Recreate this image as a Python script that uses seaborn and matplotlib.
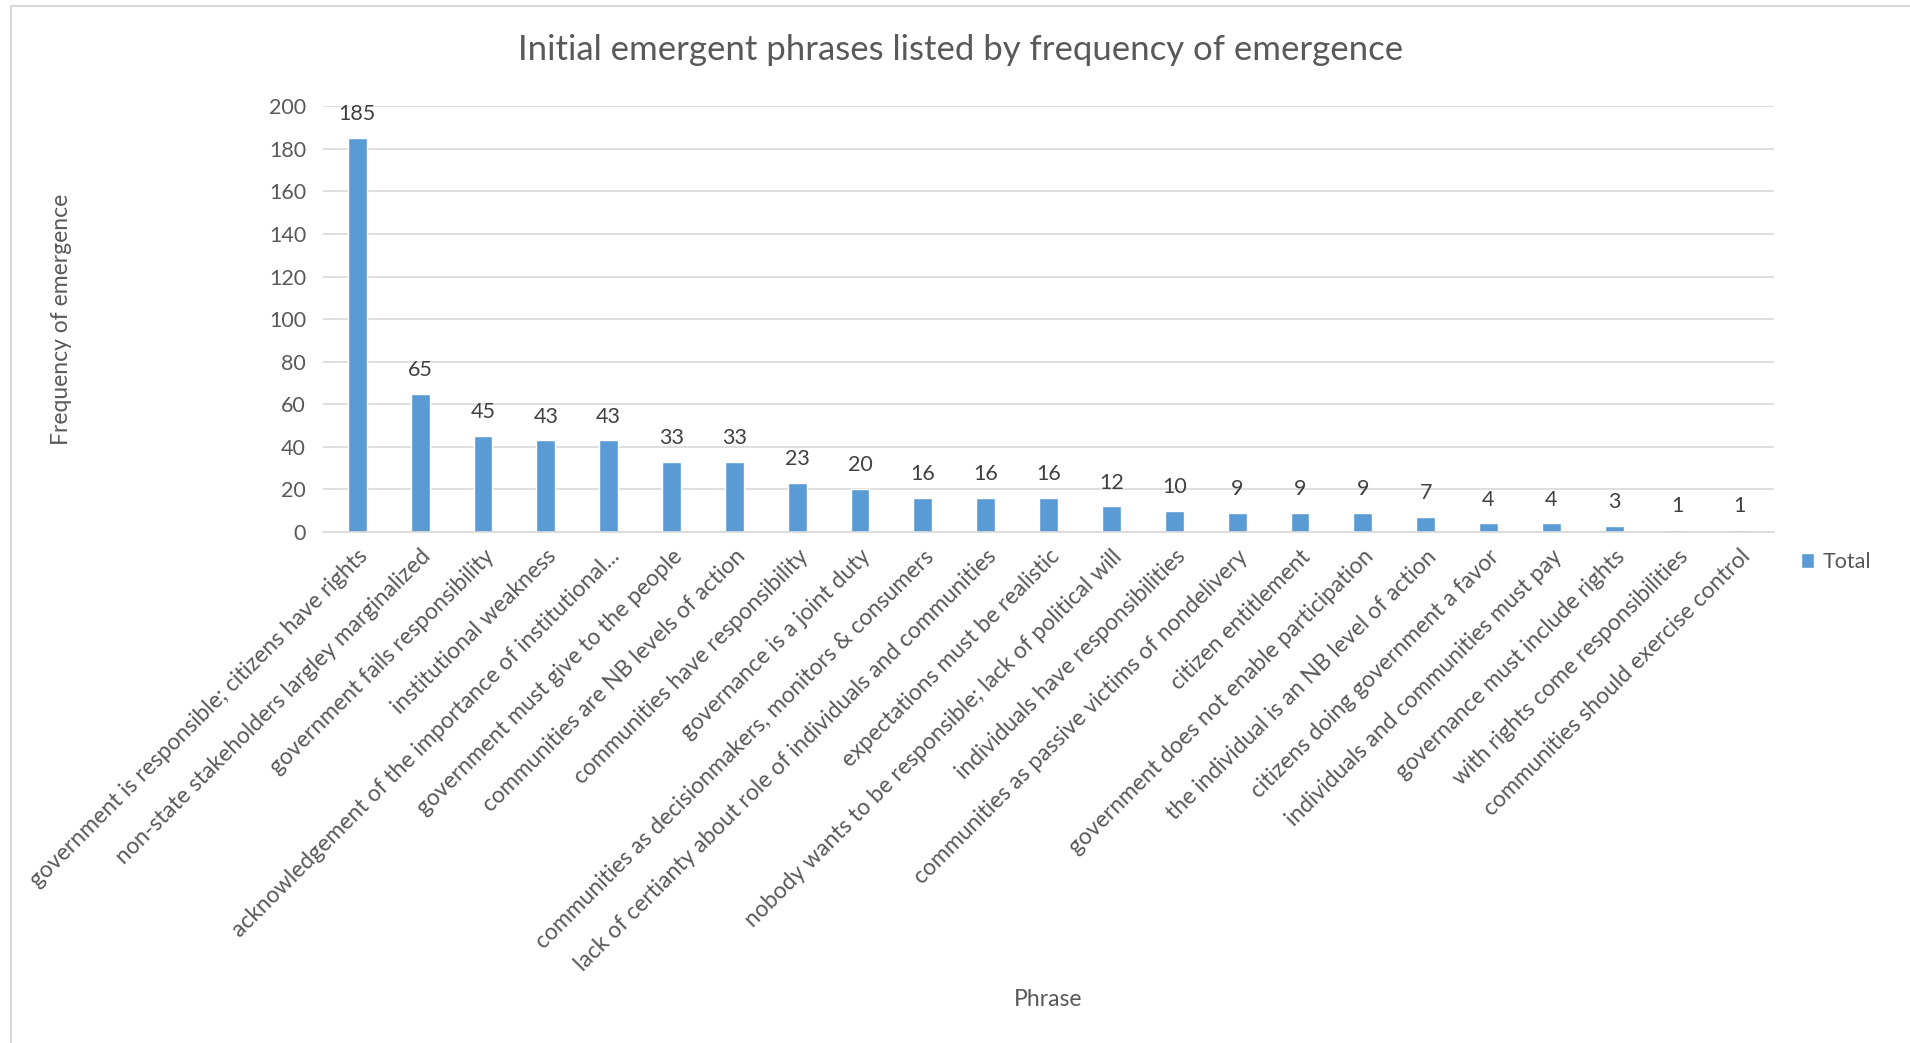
import matplotlib
matplotlib.use("Agg")
import matplotlib.pyplot as plt
import seaborn as sns
import pandas as pd
from matplotlib.patches import Rectangle

# phrases and counts
phrases = [
    "government is responsible; citizens have rights",
    "non-state stakeholders largley marginalized",
    "government fails responsibility",
    "institutional weakness",
    "acknowledgement of the importance of institutional...",
    "government must give to the people",
    "communities are NB levels of action",
    "communities have responsibility",
    "governance is a joint duty",
    "communities as decisionmakers, monitors & consumers",
    "lack of certianty about role of individuals and communities",
    "expectations must be realistic",
    "nobody wants to be responsible; lack of political will",
    "individuals have responsibilities",
    "communities as passive victims of nondelivery",
    "citizen entitlement",
    "government does not enable participation",
    "the individual is an NB level of action",
    "citizens doing government a favor",
    "individuals and communities must pay",
    "governance must include rights",
    "with rights come responsibilities",
    "communities should exercise control",
]
totals = [185, 65, 45, 43, 43, 33, 33, 23, 20, 16, 16, 16, 12, 10, 9, 9, 9, 7, 4, 4, 3, 1, 1]
yticks = [0, 20, 40, 60, 80, 100, 120, 140, 160, 180, 200]

sns.set_style("white")
plt.rcParams["font.family"] = ["Lato", "DejaVu Sans"]
txt = "#595959"
bar_color = "#5B9BD5"

df = pd.DataFrame({"Phrase": phrases, "Total": totals})

fig = plt.figure(figsize=(19.10, 10.43), dpi=100)
ax = fig.add_axes([0.169, 0.490, 0.760, 0.408])

sns.barplot(data=df, x="Phrase", y="Total", color=bar_color, width=0.3,
            ax=ax, label="Total", saturation=1)

ax.set_ylim(0, 200)
ax.set_yticks(yticks)
ax.yaxis.grid(True, color="#D9D9D9", linewidth=1.2)
ax.set_axisbelow(True)
for s in ["top", "right", "left"]:
    ax.spines[s].set_visible(False)
ax.spines["bottom"].set_color("#D9D9D9")
ax.spines["bottom"].set_linewidth(1.2)
ax.tick_params(axis="both", length=0, colors=txt, labelsize=15.5)
ax.tick_params(axis="y", pad=12)
ax.set_xlim(-0.55, len(phrases) - 0.45)

ax.set_xticks(range(len(phrases)))
ax.set_xticklabels(phrases, rotation=45, ha="right", rotation_mode="anchor",
                   fontsize=16.5, color=txt)
ax.tick_params(axis="x", pad=10)

ax.bar_label(ax.containers[0], labels=[str(v) for v in totals], padding=10,
             fontsize=15.5, color="#404040")

ax.set_xlabel("")
ax.set_ylabel("")
fig.text(0.032, 0.694, "Frequency of emergence", rotation=90, ha="center",
         va="center", fontsize=16.5, color=txt)
fig.text(0.549, 0.042, "Phrase", ha="center", va="center", fontsize=16.5, color=txt)
fig.text(0.503, 0.952, "Initial emergent phrases listed by frequency of emergence",
         ha="center", va="center", fontsize=25, color=txt)

ax.legend(loc="center left", bbox_to_anchor=(1.005, -0.07), frameon=False,
          fontsize=15.5, labelcolor=txt, handlelength=0.6, handleheight=0.7,
          handletextpad=0.4)

# chart frame like the spreadsheet chart border
fig.patches.append(Rectangle((0.006, -0.05), 1.1, 1.044, transform=fig.transFigure,
                             fill=False, edgecolor="#D9D9D9", linewidth=1.5))

fig.savefig("out.png", dpi=100)
